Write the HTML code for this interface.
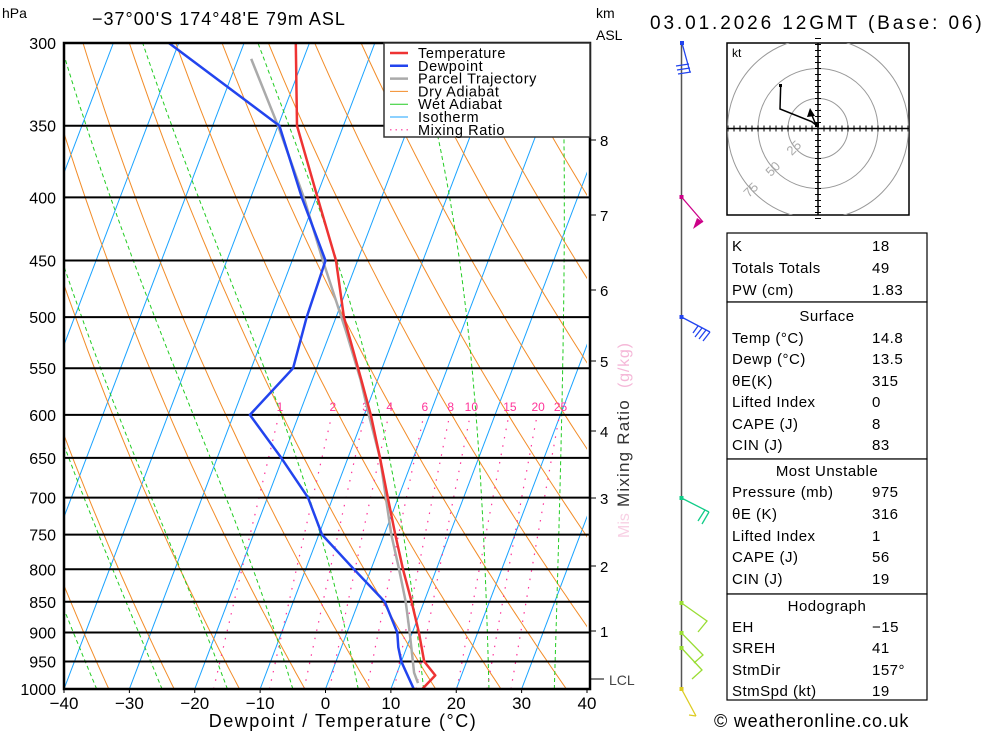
<!DOCTYPE html>
<html><head><meta charset="utf-8"><style>
html,body{margin:0;padding:0;background:#fff}
svg{display:block;font-family:"Liberation Sans",sans-serif}
</style></head><body>
<svg id="chart" width="1000" height="733" viewBox="0 0 1000 733" xmlns="http://www.w3.org/2000/svg">
<defs><clipPath id="plotclip"><rect x="64" y="43" width="523" height="646"/></clipPath>
<clipPath id="hodoclip"><rect x="727" y="43" width="182" height="172"/></clipPath></defs>
<g id="bg" clip-path="url(#plotclip)"></g>
<g id="plevels"></g>
<g id="profiles" clip-path="url(#plotclip)"></g>
<g id="axes"></g>
<g id="legend">
<rect x="384" y="43" width="206" height="94" fill="#fff" stroke="#333" stroke-width="1.5"/>
</g>
<text x="2" y="18" font-size="14">hPa</text>
<text x="92" y="25" font-size="18" letter-spacing="1">−37°00'S  174°48'E  79m  ASL</text>
<text x="596" y="18" font-size="14">km</text>
<text x="596" y="40" font-size="14">ASL</text>
<text x="650" y="29" font-size="19" letter-spacing="2.9">03.01.2026  12GMT  (Base: 06)</text>
<g id="km"></g>
<g>
<text transform="translate(629,388) rotate(-90)" font-size="16" fill="#f5b8d8" letter-spacing="0.8">(g/kg)</text>
<text transform="translate(629,507) rotate(-90)" font-size="17" fill="#333" letter-spacing="1.2">Mixing Ratio</text>
<text transform="translate(629,538) rotate(-90)" font-size="16" fill="#f8d0e4">Mis</text>
</g>
<g id="wind"></g>
<g id="hodo"></g>
<g id="table"></g>
<text x="714" y="727" font-size="18" letter-spacing="0.8">© weatheronline.co.uk</text>
</svg>
<script>
// ---- data ----
const pLevels=[300,350,400,450,500,550,600,650,700,750,800,850,900,950,1000];
const tempP=[300,350,400,450,500,562,600,650,700,750,800,850,900,950,975,1000];
const tempT=[-42.1,-37.1,-29.8,-23.3,-18.8,-12.5,-9.0,-5.1,-1.6,1.7,4.9,8.1,11.0,13.5,16.0,14.8];
const dewP=[300,350,400,450,500,550,600,650,700,750,800,850,900,925,950,1000];
const dewT=[-61.5,-39.8,-32.2,-24.9,-24.5,-23.6,-27.5,-20.2,-13.8,-9.5,-2.6,4.0,7.7,8.7,10.0,13.5];
const parP=[309,350,400,450,513,562,600,650,750,800,850,900,970,989];
const parT=[-48,-40.0,-31.9,-25.3,-17.7,-12.6,-9.3,-5.1,1.1,4.3,7.2,9.6,12.6,13.8];
const xTicks=[-40,-30,-20,-10,0,10,20,30,40];
const thetas=[200,210,220,230,240,250,260,270,280,290,300,310,320,330,340,350,360,370,380,390,400,410,420,430,440,450];
const wetStart=[-35,-25,-15,-5,5,15,25,35];
const isoT=[-110,-100,-90,-80,-70,-60,-50,-40,-30,-20,-10,0,10,20,30,40];
const mixR=[1,2,3,4,6,8,10,15,20,25];
const kmVals=[8,7,6,5,4,3,2,1];
const kmY=[140,215,290,361,431,498,566,631];
// ---- axes ----
const X0=64,X1=587,Y0=43,Y1=689,SK=0.38,PX=(X1-X0)/80;
function yP(p){return Y0+Math.log(p/300)/Math.log(1000/300)*(Y1-Y0);}
function xT(t,p){return X0+(t+40)*PX+(Y1-yP(p))*SK;}
const NS="http://www.w3.org/2000/svg";
function el(tag,attrs,parent){const e=document.createElementNS(NS,tag);for(const k in attrs)e.setAttribute(k,attrs[k]);parent.appendChild(e);return e;}
const bg=document.getElementById('bg');
function poly(pts,attrs,parent){return el('polyline',Object.assign({points:pts.map(q=>q[0].toFixed(1)+','+q[1].toFixed(1)).join(' '),fill:'none'},attrs),parent);}
isoT.forEach(t=>{const l=el('line',{x1:xT(t,1000),y1:Y1,x2:xT(t,300),y2:Y0,stroke:'#1aa3ff','stroke-width':1},bg);
});
thetas.forEach(th=>{const pts=[];for(let p=1000;p>=300;p-=10){const t=th*Math.pow(p/1000,0.2857)-273.15;pts.push([xT(t,p),yP(p)]);}
const l=poly(pts,{stroke:'#f28c28','stroke-width':1},bg);});
function es(tc){return 6.112*Math.exp(17.67*tc/(tc+243.5));}
wetStart.forEach(t0=>{let T=t0+273.15,p=1000;const pts=[[xT(t0,p),yP(p)]];
while(p>300){const e=es(T-273.15),rs=0.622*e/(p-e),Rd=287,Lv=2.5e6,cp=1004;
const g=(Rd*T+Lv*rs)/(cp+Lv*Lv*rs*0.622/(Rd*T*T))/p;const dp=-2;T+=g*dp;p+=dp;pts.push([xT(T-273.15,p),yP(p)]);}
const l=poly(pts,{stroke:'#22cc22','stroke-width':1,'stroke-dasharray':'4,3'},bg);});
mixR.forEach(w=>{const pts=[];for(let p=1000;p>=600;p-=10){const e=w*p/(622+w),a=Math.log(e/6.112),td=243.5*a/(17.67-a);pts.push([xT(td,p),yP(p)]);}
const l=poly(pts,{stroke:'#ff3399','stroke-width':1.2,'stroke-dasharray':'1.5,7'},bg);
const e6=w*600/(622+w),a6=Math.log(e6/6.112),td6=243.5*a6/(17.67-a6);
const tx=el('text',{x:xT(td6,600)+1,y:yP(600)-4,'font-size':12,fill:'#ff3399','text-anchor':'middle'},bg);tx.textContent=w;
});
const pl=document.getElementById('plevels');
pLevels.forEach(p=>{const l=el('line',{x1:X0,x2:590,y1:yP(p),y2:yP(p),stroke:'#000','stroke-width':2},pl);

const t=el('text',{x:56,y:yP(p)+6,'font-size':16,'text-anchor':'end'},pl);t.textContent=p;});
const pr=document.getElementById('profiles');
function prof(P,T,col,w,name){const l=poly(P.map((p,i)=>[xT(T[i],p),yP(p)]),{stroke:col,'stroke-width':w,'stroke-linejoin':'round'},pr);}
prof(parP,parT,'#aaaaaa',2.5,'parcel-trajectory');
prof(dewP,dewT,'#2244ee',2.5,'dewpoint-line');
prof(tempP,tempT,'#ee3333',2.5,'temperature-line');
const ax=document.getElementById('axes');
el('rect',{x:X0,y:Y0,width:590-X0,height:Y1-Y0,fill:'none',stroke:'#000','stroke-width':2.5},ax);
xTicks.forEach(t=>{const x=X0+(t+40)*PX;el('line',{x1:x,x2:x,y1:Y1,y2:Y1+4,stroke:'#000'},ax);
const tx=el('text',{x:x,y:709,'font-size':17,'text-anchor':'middle'},ax);tx.textContent=(t<0?'−':'')+Math.abs(t);});
const xt=el('text',{x:343,y:727,'font-size':18,'text-anchor':'middle','letter-spacing':'1.5'},ax);xt.textContent='Dewpoint / Temperature (°C)';
const km=document.getElementById('km');
kmVals.forEach((k,i)=>{el('line',{x1:591,x2:596,y1:kmY[i],y2:kmY[i],stroke:'#000'},km);const t=el('text',{x:600,y:kmY[i]+6,'font-size':15},km);t.textContent=k;});
el('line',{x1:591,x2:604,y1:679,y2:679,stroke:'#000'},km);
const lcl=el('text',{x:609,y:685,'font-size':14,fill:'#444'},km);lcl.textContent='LCL';
const lg=document.getElementById('legend');
[['Temperature','#ee3333',2.5,''],['Dewpoint','#2244ee',2.5,''],['Parcel Trajectory','#aaaaaa',2.5,''],['Dry Adiabat','#f28c28',1,''],['Wet Adiabat','#22cc22',1,''],['Isotherm','#1aa3ff',1,''],['Mixing Ratio','#ff3399',1.2,'1.5,4']].forEach((e,i)=>{
const y=53+i*12.8;const l=el('line',{x1:390,x2:408,y1:y,y2:y,stroke:e[1],'stroke-width':e[2]},lg);if(e[3])l.setAttribute('stroke-dasharray',e[3]);
const t=el('text',{x:418,y:y+5,'font-size':14.5,'letter-spacing':'0.6'},lg);t.textContent=e[0];});
const wd=document.getElementById('wind');
el('line',{x1:681.5,x2:681.5,y1:43,y2:689,stroke:'#555','stroke-width':1.5},wd);
function barb(pts,col,extra){poly(pts,{stroke:col,'stroke-width':1.3},wd);el('rect',{x:pts[0][0]-2,y:pts[0][1]-2,width:4,height:4,fill:col},wd);(extra||[]).forEach(s=>poly(s,{stroke:col,'stroke-width':1.3},wd));}
barb([[682,43],[690,72]],'#2244ee',[[[689,64],[676,66]],[[690,68],[677,70]],[[691,72],[678,74]]]);
barb([[681.5,197],[703,222]],'#cc0088',[]);el('polygon',{points:'703,222 693,229 697,218',fill:'#cc0088'},wd);
barb([[681.5,317],[710,332]],'#2244ee',[[[710,332],[703,341]],[[706,330],[699,339]],[[702,328],[695,337]],[[698,326],[693,333]]]);
barb([[681.5,498],[709,512]],'#11cc88',[[[709,512],[702,524]],[[705,510],[698,521]]]);
barb([[681.5,603],[707,621],[698,632]],'#99dd33');
barb([[681.5,633],[703,655],[694,663]],'#99dd33');
barb([[681.5,648],[702,670],[692,679]],'#99dd33');
barb([[681.5,689],[696,716]],'#ddcc22',[[[696,716],[689,715]]]);
const hd=document.getElementById('hodo');const cx=818,cy=128.5;
el('rect',{x:727,y:43,width:182,height:172,fill:'#fff',stroke:'#000','stroke-width':1.5},hd);
const hc=el('g',{'clip-path':'url(#hodoclip)'},hd);
[30,60,90.5].forEach(r=>el('circle',{cx:cx,cy:cy,r:r,fill:'none',stroke:'#999','stroke-width':1},hc));
el('line',{x1:727,x2:909,y1:cy,y2:cy,stroke:'#000','stroke-width':1.5},hd);el('line',{x1:cx,x2:cx,y1:43,y2:215,stroke:'#000','stroke-width':1.5},hd);
for(let d=-90;d<=90;d+=6){el('line',{x1:cx+d,x2:cx+d,y1:cy-3,y2:cy+3,stroke:'#000'},hd);el('line',{x1:cx-3,x2:cx+3,y1:cy+d,y2:cy+d,stroke:'#000'},hd);}
[['25',797,151],['50',776,172],['75',754,193]].forEach(a=>{const t=el('text',{transform:`translate(${a[1]},${a[2]}) rotate(-45)`,'font-size':13,fill:'#aaa','text-anchor':'middle'},hd);t.textContent=a[0];});
const kt=el('text',{x:732,y:57,'font-size':12},hd);kt.textContent='kt';
poly([[780.7,85.3],[780,109],[811.7,121.7],[816,125]],{stroke:'#000','stroke-width':1.5},hd);
el('rect',{x:779,y:84,width:3,height:3,fill:'#000'},hd);el('rect',{x:815,y:123,width:4,height:4,fill:'#000'},hd);
el('line',{x1:816,y1:125,x2:811,y2:113,stroke:'#000','stroke-width':1.5},hd);el('polygon',{points:'810,108 807,117 815,116',fill:'#000'},hd);
const tb=document.getElementById('table');
[[727,233,200,69],[727,302,200,157],[727,459,200,135],[727,594,200,106]].forEach(r=>el('rect',{x:r[0],y:r[1],width:r[2],height:r[3],fill:'#fff',stroke:'#000','stroke-width':1.2},tb));
const rows=[['K','18',245],['Totals Totals','49',267],['PW (cm)','1.83',289],['Temp (°C)','14.8',337],['Dewp (°C)','13.5',358],['θE(K)','315',380],['Lifted Index','0',401],['CAPE (J)','8',423],['CIN (J)','83',444],['Pressure (mb)','975',491],['θE (K)','316',513],['Lifted Index','1',535],['CAPE (J)','56',556],['CIN (J)','19',578],['EH','−15',626],['SREH','41',647],['StmDir','157°',669],['StmSpd (kt)','19',690]];
rows.forEach(r=>{const a=el('text',{x:732,y:r[2]+6,'font-size':15,'letter-spacing':'0.5'},tb);a.textContent=r[0];
const b=el('text',{x:872,y:r[2]+6,'font-size':15,'letter-spacing':'0.5'},tb);b.textContent=r[1];});
[['Surface',315],['Most Unstable',470],['Hodograph',605]].forEach(h=>{const t=el('text',{x:827,y:h[1]+6,'font-size':15,'text-anchor':'middle','letter-spacing':'0.5'},tb);t.textContent=h[0];});
</script>
</body></html>
